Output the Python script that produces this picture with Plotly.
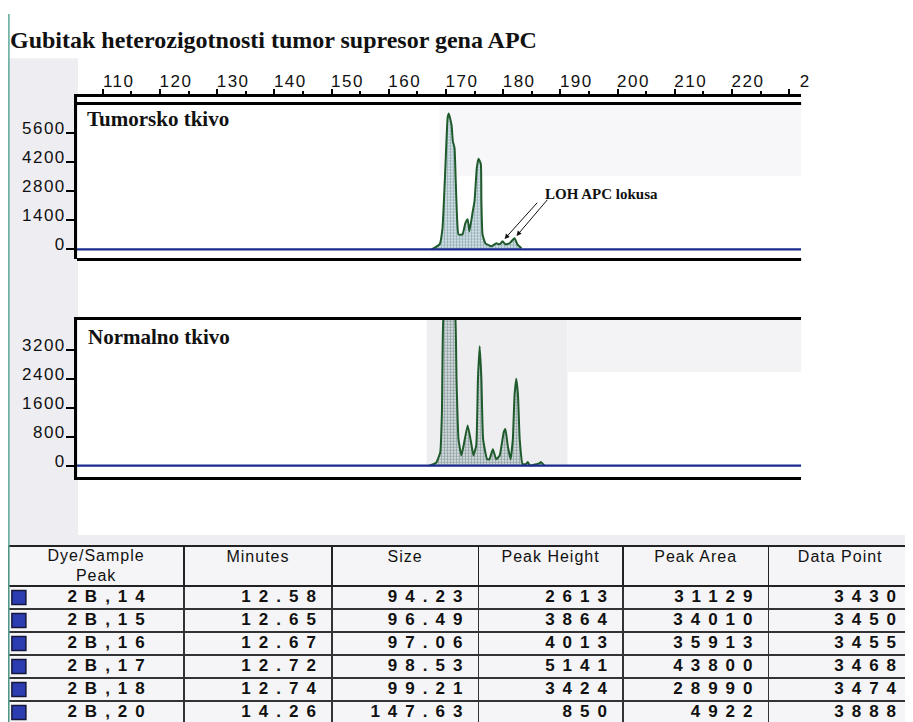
import plotly.graph_objects as go

# ---------------- data ----------------
title_text = "Gubitak heterozigotnosti tumor supresor gena APC"

x_tickvals = [110, 120, 130, 140, 150, 160, 170, 180, 190, 200, 210, 220, 230]
x_ticktext = ["110", "120", "130", "140", "150", "160", "170", "180", "190", "200", "210", "220", "2"]

tumor_yticks = [0, 1400, 2800, 4200, 5600]
normal_yticks = [0, 800, 1600, 2400, 3200]

tumor_size = [167.5, 168.9, 169.4, 169.9, 170.3, 170.5, 171.0, 171.2, 171.5, 171.7, 171.9, 172.2,
              172.9, 173.4, 173.8, 174.1, 174.7, 175.0, 175.4, 175.7, 176.1, 176.2, 176.4, 176.9,
              178.0, 178.8, 179.4, 179.9, 180.4, 181.1, 182.0, 182.5, 183.2]
tumor_height = [0, 240, 1010, 3910, 6320, 6520, 5940, 5210, 4880, 3430, 1840, 720,
                720, 1260, 1450, 870, 1840, 2320, 3910, 4350, 4100, 2320, 720, 290,
                150, 290, 240, 390, 240, 290, 530, 240, 50]

normal_size = [167.1, 168.3, 169.0, 169.3, 169.55, 170.6, 171.65, 171.85, 172.2, 172.7, 173.1, 173.8,
               174.4, 174.8, 175.3, 175.6, 175.9, 176.2, 176.5, 177.2, 177.6, 178.2, 178.8, 179.4,
               180.1, 180.4, 180.8, 181.3, 181.7, 182.0, 182.3, 182.6, 182.9, 183.4, 184.0, 184.3,
               184.7, 186.4, 186.6, 187.2]
normal_height = [0, 80, 360, 1480, 4100, 5200, 4100, 2400, 730, 280, 560, 1110,
                 640, 280, 560, 2400, 3300, 2400, 730, 175, 175, 450, 175, 280,
                 920, 1010, 560, 175, 730, 1950, 2400, 1950, 730, 40, 40, 100,
                 0, 70, 100, 0]

baseline_size = [105.5, 232.1]
baseline_height = [0, 0]

loh_size = [179.9, 182.0]
loh_height = [390, 530]
loh_label = "LOH APC lokusa"

tbl_header = ["Dye/Sample<br>Peak", "Minutes", "Size", "Peak Height", "Peak Area", "Data Point"]
dye_peak = ["2B,14", "2B,15", "2B,16", "2B,17", "2B,18", "2B,20"]
minutes = ["12.58", "12.65", "12.67", "12.72", "12.74", "14.26"]
size_bp = ["94.23", "96.49", "97.06", "98.53", "99.21", "147.63"]
peak_height = ["2613", "3864", "4013", "5141", "3424", "850"]
peak_area = ["31129", "34010", "35913", "43800", "28990", "4922"]
data_point = ["3430", "3450", "3455", "3468", "3474", "3888"]

# ---------------- styling helpers ----------------
W, H = 913, 722
OFF = 8  # page body margin
SX = (W + OFF) / W
SY = (H + 4) / H


def px_x(x):
    return max(0.0, (x * SX - OFF) / W)


def px_y(y):
    return min(1.0, max(0.0, 1 - (y * SY - OFF) / H))


GREEN = "#1f5a2c"
BLUE = "#1b2a8f"
SANS = "Liberation Sans, Arial, sans-serif"
SERIF = "Liberation Serif, Times New Roman, serif"


def spaced(t, ls=1.5):
    return f"<span style='letter-spacing:{ls}px'>{t}</span>"


def bold_spaced(t, ls=8):
    return f"<b><span style='letter-spacing:{ls}px'>{t}</span></b>"


fig = go.Figure()

# tumor panel
fig.add_trace(go.Scatter(
    x=tumor_size, y=tumor_height, xaxis="x", yaxis="y", mode="lines",
    line=dict(color=GREEN, width=2, shape="spline", smoothing=0.4),
    fill="tozeroy", fillcolor="#cfe0ea",
    fillpattern=dict(shape="+", fgcolor="#4f7468", bgcolor="#cfe0ea", size=3, solidity=0.4),
    hoverinfo="skip", showlegend=False))
fig.add_trace(go.Scatter(
    x=baseline_size, y=baseline_height, xaxis="x", yaxis="y", mode="lines",
    line=dict(color=BLUE, width=2.2), hoverinfo="skip", showlegend=False))

# normal panel
fig.add_trace(go.Scatter(
    x=normal_size, y=normal_height, xaxis="x2", yaxis="y2", mode="lines",
    line=dict(color=GREEN, width=2, shape="spline", smoothing=0.4),
    fill="tozeroy", fillcolor="#d0d8dc",
    fillpattern=dict(shape="+", fgcolor="#46645a", bgcolor="#d0d8dc", size=3, solidity=0.4),
    hoverinfo="skip", showlegend=False))
fig.add_trace(go.Scatter(
    x=baseline_size, y=baseline_height, xaxis="x2", yaxis="y2", mode="lines",
    line=dict(color=BLUE, width=2.2), hoverinfo="skip", showlegend=False))

# ---------------- table ----------------
col_w = [178, 149, 148, 146, 147, 145]
header_h, row_h = 40, 23
n_rows = len(dye_peak)
edges = [sum(col_w[:i + 1]) for i in range(len(col_w))]
centers = [e - w / 2 for e, w in zip(edges, col_w)]
row_y = [header_h + row_h * (i + 0.5) for i in range(n_rows)]
table_h = header_h + row_h * n_rows
PAD = 8

TABLE_TOP = px_y(543)
table_top_px = (1 - TABLE_TOP) * H

# grid
fig.add_trace(go.Table(
    domain=dict(x=[0.0, 1.0], y=[0, TABLE_TOP]),
    columnwidth=col_w,
    header=dict(values=[""] * len(col_w), height=header_h,
                fill_color="rgba(0,0,0,0)", line=dict(color="#222", width=1.6)),
    cells=dict(values=[[""] * n_rows for _ in col_w], height=row_h,
               fill_color="rgba(0,0,0,0)", line=dict(color="#333", width=1.5)),
))

# header texts
fig.add_trace(go.Scatter(
    x=centers, y=[header_h / 2 + 1 if "<br>" in h else header_h * 0.3 for h in tbl_header],
    xaxis="x3", yaxis="y3", mode="text", text=[spaced(h, 1) for h in tbl_header],
    textposition="middle center", textfont=dict(family=SANS, size=16, color="#111"),
    hoverinfo="skip", showlegend=False))

# dye colour markers
fig.add_trace(go.Scatter(
    x=[11] * n_rows, y=row_y, xaxis="x3", yaxis="y3",
    mode="markers", marker=dict(symbol="square", size=14, color="#2b3db0",
                                line=dict(color="#15183a", width=1.5)),
    hoverinfo="skip", showlegend=False))

# dye/sample peak labels
fig.add_trace(go.Scatter(
    x=[60] * n_rows, y=row_y, xaxis="x3", yaxis="y3", mode="text",
    text=[bold_spaced(t) for t in dye_peak], textposition="middle right",
    textfont=dict(family=SANS, size=17, color="#111"),
    hoverinfo="skip", showlegend=False))

# numeric columns, right aligned
for ci, col in enumerate([minutes, size_bp, peak_height, peak_area, data_point], start=1):
    fig.add_trace(go.Scatter(
        x=[edges[ci] - PAD] * n_rows, y=row_y, xaxis="x3", yaxis="y3", mode="text",
        text=[bold_spaced(t) for t in col], textposition="middle left",
        textfont=dict(family=SANS, size=17, color="#111"),
        hoverinfo="skip", showlegend=False))

x_dom = [px_x(77), px_x(802)]
xr = [105.5, 232.1]
axis_font = dict(family=SANS, size=17, color="#111")

# y3 maps table pixels (0 at the top of the header) onto the table area
y3_bottom_px = table_top_px + table_h
y3_dom = [1 - y3_bottom_px / H, TABLE_TOP]
y3_range = [table_h, 0]
if y3_dom[0] < 0:
    # clip the domain at the paper bottom and shorten the range to keep the pixel scale
    y3_range = [table_h + y3_dom[0] * H, 0]
    y3_dom[0] = 0.0

fig.update_layout(
    width=W, height=H, margin=dict(l=0, r=0, t=0, b=0),
    paper_bgcolor="white", plot_bgcolor="rgba(0,0,0,0)",
    showlegend=False,
    xaxis=dict(domain=x_dom, range=xr, anchor="y", side="top",
               tickvals=x_tickvals, ticktext=[spaced(t) for t in x_ticktext],
               ticks="outside", ticklen=5, tickwidth=2, tickcolor="black",
               ticklabelshift=16, ticklabelstandoff=-5, tickfont=axis_font,
               minor=dict(ticks="outside", ticklen=3, tickwidth=1.5, tickcolor="black", tick0=115, dtick=10),
               showline=True, linewidth=2.5, linecolor="black",
               showgrid=False, zeroline=False, fixedrange=True),
    yaxis=dict(domain=[px_y(258), px_y(96)], range=[-483, 7338], anchor="x",
               tickvals=tumor_yticks, ticktext=[spaced(str(t)) for t in tumor_yticks],
               ticks="outside", ticklen=8, tickwidth=2, tickcolor="black", tickfont=axis_font,
               ticklabelshift=-5, ticklabelstandoff=-3,
               showline=True, linewidth=2.5, linecolor="black",
               showgrid=False, zeroline=False, fixedrange=True),
    xaxis2=dict(domain=x_dom, range=xr, anchor="y2", showticklabels=False, ticks="",
                showline=True, mirror=True, linewidth=3, linecolor="black",
                showgrid=False, zeroline=False, fixedrange=True),
    yaxis2=dict(domain=[px_y(474), px_y(318)], range=[-306, 4035], anchor="x2",
                tickvals=normal_yticks, ticktext=[spaced(str(t)) for t in normal_yticks],
                ticks="outside", ticklen=8, tickwidth=2, tickcolor="black", tickfont=axis_font,
                ticklabelshift=-5, ticklabelstandoff=-3,
                showline=True, linewidth=2.5, linecolor="black",
                showgrid=False, zeroline=False, fixedrange=True),
    xaxis3=dict(domain=[0.0, 1.0], range=[0, sum(col_w)], anchor="y3", visible=False, fixedrange=True),
    yaxis3=dict(domain=y3_dom, range=y3_range, anchor="x3", visible=False, fixedrange=True),
)

panel_top_frac = (258 - 103) / (258 - 96)

shapes = [
    # scanned page tint
    dict(type="rect", xref="paper", yref="paper", x0=0, x1=px_x(78), y0=px_y(543), y1=px_y(58),
         fillcolor="#eeeef2", line=dict(width=0), layer="below"),
    dict(type="rect", xref="paper", yref="paper", x0=0, x1=1, y0=px_y(543), y1=px_y(532),
         fillcolor="#eeeef2", line=dict(width=0), layer="below"),
    dict(type="rect", xref="paper", yref="paper", x0=0, x1=1, y0=0, y1=px_y(543),
         fillcolor="#f5f5f7", line=dict(width=0), layer="below"),
    dict(type="rect", xref="paper", yref="paper", x0=px_x(427), x1=px_x(568), y0=px_y(463), y1=px_y(318),
         fillcolor="#eeeef1", line=dict(width=0), layer="below"),
    dict(type="rect", xref="paper", yref="paper", x0=px_x(568), x1=px_x(802), y0=px_y(370), y1=px_y(318),
         fillcolor="#f3f3f5", line=dict(width=0), layer="below"),
    dict(type="rect", xref="paper", yref="paper", x0=px_x(440), x1=px_x(802), y0=px_y(175), y1=px_y(103),
         fillcolor="#f7f7f9", line=dict(width=0), layer="below"),
    # teal page edge
    dict(type="line", xref="paper", yref="paper", x0=0.001, x1=0.001, y0=0, y1=px_y(14),
         line=dict(color="#5aa897", width=1.5)),
    # tumor panel frame
    dict(type="line", xref="x domain", yref="y domain", x0=0, x1=1, y0=panel_top_frac, y1=panel_top_frac,
         line=dict(color="black", width=3)),
    dict(type="line", xref="x domain", yref="y domain", x0=0, x1=1, y0=0, y1=0,
         line=dict(color="black", width=3)),
]
fig.update_layout(shapes=shapes)

annotations = [
    dict(text=f"<b>{title_text}</b>", xref="paper", yref="paper", x=px_x(8), y=px_y(40),
         xanchor="left", yanchor="middle", showarrow=False,
         font=dict(family=SERIF, size=24, color="#111")),
    dict(text="<b>Tumorsko tkivo</b>", xref="paper", yref="paper", x=px_x(85), y=px_y(118),
         xanchor="left", yanchor="middle", showarrow=False,
         font=dict(family=SERIF, size=21, color="#111")),
    dict(text="<b>Normalno tkivo</b>", xref="paper", yref="paper", x=px_x(86), y=px_y(335),
         xanchor="left", yanchor="middle", showarrow=False,
         font=dict(family=SERIF, size=21, color="#111")),
    dict(text=f"<b>{loh_label}</b>", xref="paper", yref="paper", x=px_x(544), y=px_y(193),
         xanchor="left", yanchor="middle", showarrow=False,
         font=dict(family=SERIF, size=15, color="#111")),
]
for lx, ly, dx in zip(loh_size, loh_height, [36, 34]):
    annotations.append(dict(text="", x=lx, y=ly, xref="x", yref="y", showarrow=True,
                            ax=dx, ay=-40, arrowhead=2, arrowsize=1, arrowwidth=1,
                            arrowcolor="#111", standoff=3))
fig.update_layout(annotations=annotations)

fig.write_html("out.html")
